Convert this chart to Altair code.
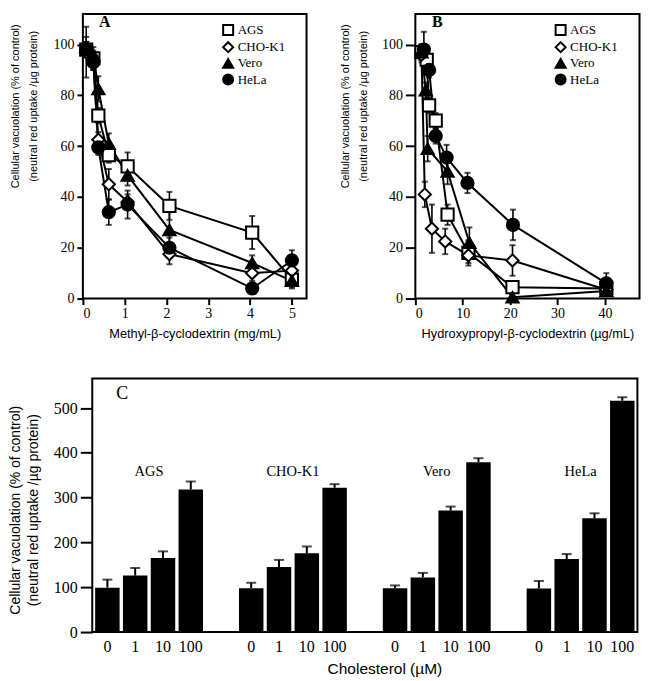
import altair as alt
import pandas as pd

SERIF = "Liberation Serif"
SANS = "Liberation Sans"

SERIES = ["AGS", "CHO-K1", "Vero", "HeLa"]
SHAPES = ["square", "diamond", "triangle-up", "circle"]
FILLS = ["white", "white", "black", "black"]
YTITLE_1 = "Cellular vacuolation (% of control)"
YTITLE_2 = "(neutral red uptake /\u00b5g protein)"

# ---- Panel A: methyl-beta-cyclodextrin (mg/mL)
a_conc = [0.08, 0.25, 0.37, 0.62, 1.07, 2.07, 4.05, 5.0]
a_ags = [98, 94.5, 72, 56.5, 52, 36.5, 26, 7.5]
a_ags_err = [3, 3, 3, 3, 5.5, 5.5, 6.5, 3]
a_cho = [97, 93, 62.5, 45, 38, 17.5, 10, 11]
a_cho_err = [10, 3, 3, 6, 3, 4, 3, 3]
a_vero = [99, 96, 82.5, 61, 48.5, 27, 14, 7]
a_vero_err = [4, 3, 5, 4, 4, 7, 3, 3]
a_hela = [98, 93, 59.5, 34, 37, 20, 4, 15]
a_hela_err = [3, 3, 3, 5, 5.5, 4, 2, 4]

# ---- Panel B: hydroxypropyl-beta-cyclodextrin (ug/mL)
b_ags_x = [1.3, 2.4, 2.9, 4.3, 6.8, 11.2, 20.5, 40.3]
b_ags = [97, 94, 76, 70, 33, 18, 4.5, 4]
b_ags_err = [3, 3, 3, 3, 4, 5, 2, 2]
b_cho_x = [1.3, 2.0, 3.5, 6.3, 11.2, 20.5, 40.3]
b_cho = [96, 41, 27.5, 22.5, 17, 15, 3.5]
b_cho_err = [3, 5, 9.5, 5, 3, 6, 2]
b_vero_x = [1.3, 2.2, 2.6, 6.8, 11.4, 20.5, 40.3]
b_vero = [97, 82, 59, 50, 22, 0.5, 3]
b_vero_err = [3, 3, 5, 5, 6, 2, 2]
b_hela_x = [1.8, 2.9, 4.3, 6.6, 11.0, 20.6, 40.3]
b_hela = [98, 90, 64, 55.5, 45.5, 29, 6]
b_hela_err = [7, 3, 3, 5, 4, 6, 4]

# ---- Panel C: cholesterol (uM)
c_groups = ["AGS", "CHO-K1", "Vero", "HeLa"]
c_conc = ["0", "1", "10", "100"]
c_ags = [99, 126, 165, 318]
c_ags_err = [18, 17, 15, 18]
c_cho = [98, 145, 176, 322]
c_cho_err = [12, 16, 15, 8]
c_vero = [98, 122, 271, 379]
c_vero_err = [6, 10, 9, 9]
c_hela = [97, 163, 254, 516]
c_hela_err = [17, 11, 11, 8]


def dose_frame(xs, ys, es):
    rows = []
    for s in SERIES:
        for x, y, e in zip(xs[s], ys[s], es[s]):
            rows.append({"series": s, "x": x, "y": y, "lo": max(y - e, 0), "hi": y + e})
    return pd.DataFrame(rows)


df_a = dose_frame(
    {"AGS": a_conc, "CHO-K1": a_conc, "Vero": a_conc, "HeLa": a_conc},
    {"AGS": a_ags, "CHO-K1": a_cho, "Vero": a_vero, "HeLa": a_hela},
    {"AGS": a_ags_err, "CHO-K1": a_cho_err, "Vero": a_vero_err, "HeLa": a_hela_err},
)
df_b = dose_frame(
    {"AGS": b_ags_x, "CHO-K1": b_cho_x, "Vero": b_vero_x, "HeLa": b_hela_x},
    {"AGS": b_ags, "CHO-K1": b_cho, "Vero": b_vero, "HeLa": b_hela},
    {"AGS": b_ags_err, "CHO-K1": b_cho_err, "Vero": b_vero_err, "HeLa": b_hela_err},
)

c_vals = {"AGS": c_ags, "CHO-K1": c_cho, "Vero": c_vero, "HeLa": c_hela}
c_errs = {"AGS": c_ags_err, "CHO-K1": c_cho_err, "Vero": c_vero_err, "HeLa": c_hela_err}
df_c = pd.DataFrame([
    {"group": g, "conc": c, "val": v, "hi": v + e}
    for g in c_groups
    for c, v, e in zip(c_conc, c_vals[g], c_errs[g])
])


def ytitle_layers(size, x1, x2, yc):
    """Two rotated lines of the y-axis title, drawn as text."""
    out = []
    for txt, xp in ((YTITLE_1, x1), (YTITLE_2, x2)):
        out.append(
            alt.Chart(pd.DataFrame({"t": [txt]})).mark_text(
                font=SANS, fontSize=size, angle=270, align="center", baseline="middle", color="black"
            ).encode(x=alt.value(xp), y=alt.value(yc), text="t:N")
        )
    return out


def frame_layer(x0, x1, h):
    """Black box drawn around a plot area."""
    return alt.Chart(pd.DataFrame({"t": [0]})).mark_rect(
        fillOpacity=0, stroke="black", strokeWidth=2
    ).encode(x=alt.value(x0), x2=alt.value(x1), y=alt.value(0), y2=alt.value(h))


def dose_panel(df, xdomain, xticks, xtitle, letter, ytick, tx1, tx2, w):
    xscale = alt.Scale(domain=xdomain, nice=False, zero=False)
    xaxis = alt.Axis(values=xticks, title=xtitle, tickSize=6, labelPadding=2,
                     titlePadding=7, titleFontSize=12.8, format="d")
    yscale = alt.Scale(domain=[0, 112], nice=False)
    yaxis = alt.Axis(values=[0, 20, 40, 60, 80, 100], title=None, tickSize=ytick, labelPadding=3)

    def X():
        return alt.X("x:Q", scale=xscale, axis=xaxis)

    def Y(f):
        return alt.Y(f, scale=yscale, axis=yaxis)

    leg = alt.Legend(title=None, orient="none", legendX=139, legendY=9.5,
                     symbolSize=100, symbolStrokeWidth=2, symbolStrokeColor="black",
                     labelFont=SERIF, labelFontSize=13, labelColor="black",
                     labelOffset=3, rowPadding=-1.8, padding=0)
    base = alt.Chart(df)
    line = base.mark_line(color="black", strokeWidth=2).encode(x=X(), y=Y("y:Q"), detail="series:N")
    err = base.mark_rule(color="black", strokeWidth=1.6).encode(x=X(), y=Y("lo:Q"), y2="hi:Q")
    cap_hi = base.mark_tick(color="black", orient="horizontal", size=6, thickness=2).encode(x=X(), y=Y("hi:Q"))
    cap_lo = base.mark_tick(color="black", orient="horizontal", size=6, thickness=2).encode(x=X(), y=Y("lo:Q"))
    pts = base.mark_point(filled=True, size=150, strokeWidth=2, opacity=1).encode(
        x=X(), y=Y("y:Q"),
        shape=alt.Shape("series:N", scale=alt.Scale(domain=SERIES, range=SHAPES), legend=leg),
        fill=alt.Fill("series:N", scale=alt.Scale(domain=SERIES, range=FILLS), legend=leg),
        stroke=alt.Stroke("series:N", scale=alt.Scale(domain=SERIES, range=["black"] * 4), legend=leg),
    )
    lab = alt.Chart(pd.DataFrame({"t": [letter]})).mark_text(
        font=SERIF, fontSize=16, fontWeight="bold", align="center", baseline="middle", color="black"
    ).encode(x=alt.value(22), y=alt.value(8.5), text="t:N")
    return alt.layer(frame_layer(0, w, 285), line, err, cap_hi, cap_lo, pts, lab,
                     *ytitle_layers(11, tx1, tx2, 92.5)).properties(width=w, height=285)


panel_a = dose_panel(df_a, [0, 5.35], [0, 1, 2, 3, 4, 5], "Methyl-\u03b2-cyclodextrin (mg/mL)", "A", 6,
                     -67, -48.5, 224)
panel_b = dose_panel(df_b, [0, 47.3], [0, 10, 20, 30, 40],
                     "Hydroxypropyl-\u03b2-cyclodextrin (\u00b5g/mL)", "B", 10, -69.5, -51, 224.5)

# ---- Panel C (its plot box is inset to the right of the column origin)
C_INSET = 9.4
C_W = 546
cxscale = alt.Scale(domain=c_groups, range=[C_INSET, C_INSET + C_W], paddingInner=0.25, paddingOuter=0.02)
cxaxis = alt.Axis(labels=False, ticks=False, domain=False, title="Cholesterol (\u00b5M)",
                  titleFontSize=15.5, titlePadding=30, titleX=302)
cyscale = alt.Scale(domain=[0, 566], nice=False)
cyaxis = alt.Axis(values=[0, 100, 200, 300, 400, 500], title=None, tickSize=12, labelPadding=3,
                  labelFontSize=16, offset=-C_INSET)


def CX():
    return alt.X("group:N", sort=c_groups, scale=cxscale, axis=cxaxis)


def CXO():
    return alt.XOffset("conc:N", sort=c_conc, scale=alt.Scale(domain=c_conc, paddingInner=0.12, paddingOuter=0))


def CY(f):
    return alt.Y(f, scale=cyscale, axis=cyaxis)


cbase = alt.Chart(df_c)
c_bars = cbase.mark_bar(color="black").encode(x=CX(), xOffset=CXO(), y=CY("val:Q"))
c_err = cbase.mark_rule(color="black", strokeWidth=2).encode(x=CX(), xOffset=CXO(), y=CY("val:Q"), y2="hi:Q")
c_cap = cbase.mark_tick(color="black", orient="horizontal", size=10, thickness=2).encode(
    x=CX(), xOffset=CXO(), y=CY("hi:Q"))
c_ticklab = cbase.mark_text(font=SERIF, fontSize=16, baseline="middle", color="black").encode(
    x=CX(), xOffset=CXO(), y=alt.value(269), text="conc:N")
c_grouplab = alt.Chart(pd.DataFrame({"group": c_groups})).mark_text(
    font=SERIF, fontSize=14.5, baseline="middle", color="black"
).encode(x=CX(), y=alt.value(94), text="group:N")
c_letter = alt.Chart(pd.DataFrame({"t": ["C"]})).mark_text(
    font=SERIF, fontSize=18, align="center", baseline="middle", color="black"
).encode(x=alt.value(30 + C_INSET), y=alt.value(15.5), text="t:N")
panel_c = alt.layer(frame_layer(C_INSET, C_INSET + C_W, 254), c_bars, c_err, c_cap, c_ticklab,
                    c_grouplab, c_letter,
                    *ytitle_layers(14, -66.8, -49.3, 132)).properties(width=C_INSET + C_W, height=254)

top = alt.hconcat(panel_a, panel_b, spacing=31).resolve_scale(
    shape="independent", fill="independent", stroke="independent")

chart = alt.concat(top, panel_c, columns=1, align="none", spacing=35).properties(
    padding={"left": 0, "top": 3.5, "right": 0, "bottom": 0}
).configure_view(
    stroke="transparent"
).configure_axis(
    labelFont=SERIF, labelFontSize=14, labelColor="black", tickColor="black", tickWidth=2,
    domain=False, grid=False, titleFont=SANS, titleColor="black", titleFontWeight="normal"
)

chart.save("out.html", embed_options={"renderer": "svg", "actions": False})
